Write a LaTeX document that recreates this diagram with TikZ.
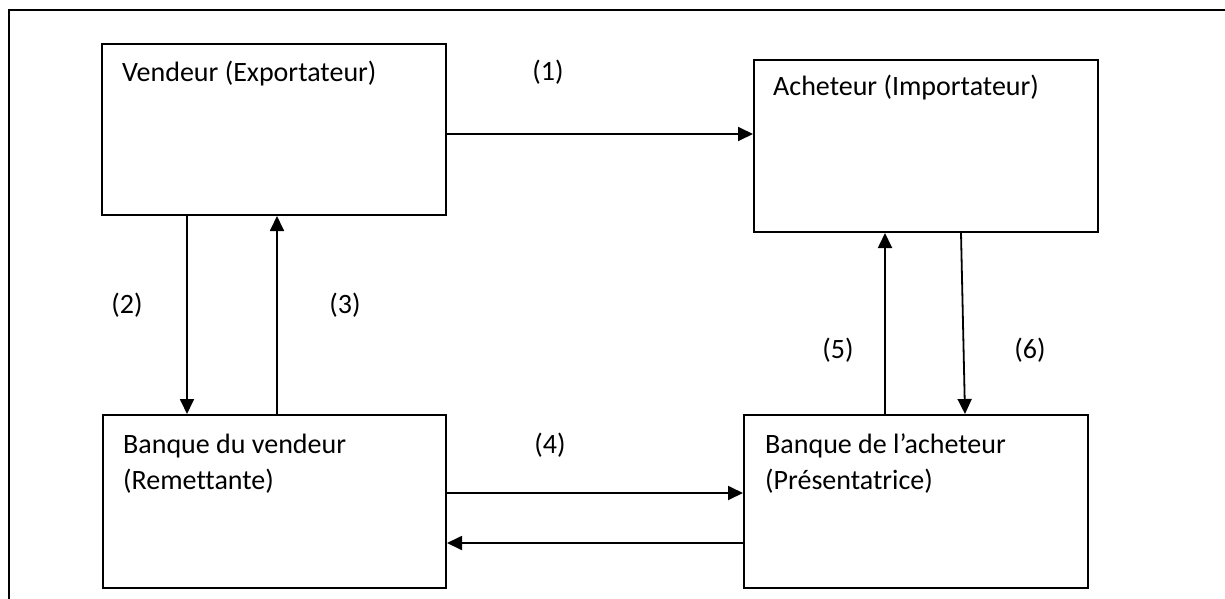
\documentclass[tikz,border=0pt]{standalone}
\usepackage{fontspec}
\setmainfont{Carlito}[Ligatures=NoCommon]
\usetikzlibrary{arrows.meta}
\begin{document}
\begin{tikzpicture}[x=1pt,y=-1pt,
  box/.style={draw,line width=2pt,rectangle,anchor=north west,inner sep=0pt},
  txt/.style={anchor=base west,inner sep=0pt,font=\fontsize{28}{34}\selectfont},
  lbl/.style={inner sep=0pt,font=\fontsize{28}{34}\selectfont},
  arr/.style={line width=1.8pt,-{Triangle[length=15pt,width=14pt]}}]
\useasboundingbox (0,0) rectangle (1225,599);
% open frame: top and left edges only
\draw[line width=2.5pt] (9,600) -- (9,10) -- (1226,10);
% the four parties
\node[box,minimum width=344pt,minimum height=171pt] (V) at (101,43) {};
\node[box,minimum width=344pt,minimum height=172pt] (A) at (753,59) {};
\node[box,minimum width=343pt,minimum height=173pt] (BV) at (102,414) {};
\node[box,minimum width=344pt,minimum height=173pt] (BA) at (743,414) {};
% their names
\node[txt] (tV) at (122,82) {Vendeur (Exportateur)};
\node[txt] (tA) at (773,96) {Acheteur (Importateur)};
\node[txt] (tBV1) at (123,453) {Banque du vendeur};
\node[txt] (tBV2) at (123,489) {(Remettante)};
\node[txt] (tBA1) at (765,453) {Banque de l’acheteur};
\node[txt] (tBA2) at (765,489) {(Présentatrice)};
% flows between the parties
\draw[arr] (V.east |- 0,134) -- (A.west |- 0,134);
\draw[arr] (V.south -| 187,0) -- (BV.north -| 187,0);
\draw[arr] (BV.north -| 277,0) -- (V.south -| 277,0);
\draw[arr] (BV.east |- 0,493) -- (BA.west |- 0,493);
\draw[arr] (BA.west |- 0,543) -- (BV.east |- 0,543);
\draw[arr] (BA.north -| 885,0) -- (A.south -| 885,0);
\draw[arr] (A.south -| 961,0) -- (BA.north -| 965,0);
% step numbers
\node[lbl] (n1) at (548,72) {(1)};
\node[lbl] (n2) at (127,305) {(2)};
\node[lbl] (n3) at (345,305) {(3)};
\node[lbl] (n4) at (550,445) {(4)};
\node[lbl] (n5) at (838,350) {(5)};
\node[lbl] (n6) at (1030,350) {(6)};
\end{tikzpicture}
\end{document}
